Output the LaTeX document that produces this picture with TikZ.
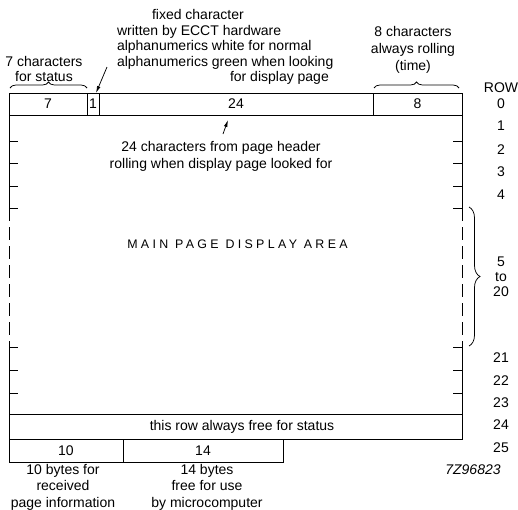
\documentclass[tikz,border=0pt]{standalone}
\usepackage{fontspec}
\setmainfont{Liberation Sans}
\usetikzlibrary{arrows.meta,decorations.pathreplacing,calc}
\begin{document}
\begin{tikzpicture}[x=1pt,y=-1pt,
  every node/.style={inner sep=0pt, outer sep=0pt, font=\fontsize{14}{15.5}\selectfont},
  cell/.style={draw, line width=0.75pt, minimum height=22pt},
  arr/.style={line width=0.75pt, -{Latex[length=7pt,width=3.6pt]}},
  brc/.style={decorate, decoration={brace, amplitude=6pt}, line width=0.75pt},
  edgeline/.style={line width=0.75pt},
  dashline/.style={line width=0.75pt, dash pattern=on 13pt off 6pt},
  tickline/.style={line width=0.75pt},
  rowlbl/.style={anchor=center}
]
\useasboundingbox (0,0) rectangle (518,509);

% row 0 cells
\node[cell, minimum width=78pt] (c7) at (48,104) {7};
\node[cell, minimum width=12pt] (c1) at (93,104) {1};
\node[cell, minimum width=274pt] (c24) at (236,104) {24};
\node[cell, minimum width=89pt] (c8) at (417.5,104) {8};

% row 24 and 25
\node[cell, minimum width=453pt, minimum height=25pt] (r24) at (235.5,426.5) {\hspace*{13pt}this row always free for status};
\node[cell, minimum width=114pt, minimum height=23pt] (c10) at (66,450.5) {10};
\node[cell, minimum width=160pt, minimum height=23pt] (c14) at (203,450.5) {14};

% main area edges
\coordinate (L5) at (9,208);
\coordinate (L21) at (9,347);
\coordinate (R5) at (462,208);
\coordinate (R21) at (462,347);
\draw[edgeline] (c7.south west) -- (L5);
\draw[dashline] (L5) -- (L21);
\draw[edgeline] (L21) -- (r24.north west);
\draw[edgeline] (c8.south east) -- (R5);
\draw[dashline] (R5) -- (R21);
\draw[edgeline] (R21) -- (r24.north east);

% ticks
\foreach \yy in {141,163,186,208,347,370,393} {
  \draw[tickline] (9,\yy) -- (18,\yy);
  \draw[tickline] (453,\yy) -- (462,\yy);
}

% top texts
\node[anchor=north west, align=left] (fixtxt) at (117,9.8)
  {\hspace*{35pt}fixed character\\
   written by ECCT hardware\\
   alphanumerics white for normal\\
   alphanumerics green when looking\\
   \hspace*{113pt}for display page};
\node[anchor=north, align=center, font=\fontsize{14}{14.5}\selectfont] (stattxt) at (44,56.8)
  {7 characters\\for status};
\node[anchor=north, align=center, font=\fontsize{14}{17}\selectfont] (timetxt) at (413,26.8)
  {8 characters\\always rolling\\(time)};

% braces
\draw[brc] ($(c7.north west)+(1,-5)$) -- ($(c7.north east)+(0,-5)$);
\draw[brc] ($(c8.north west)+(1,-5)$) -- ($(c8.north east)+(-3,-5)$);
\draw[brc, decoration={brace, amplitude=11pt}] ($(R5)+(7,-1)$) -- ($(R21)+(7,-1)$);

% arrows
\coordinate (fa) at (107,67);
\draw[arr] (fa) -- ($(c1.north)!0.5!(c1.north east)$);
\node[anchor=north, align=center, font=\fontsize{14}{17}\selectfont] (hdrtxt) at (221,141.8)
  {24 characters from page header\\rolling when display page looked for};
\coordinate (ha) at (223,134);
\coordinate (hb) at (228,120);
\draw[arr] (ha) -- (hb);

% main label
\node[font=\fontsize{12.4}{14}\selectfont\addfontfeature{LetterSpace=27}] (mainlbl) at (237.5,244) {MAIN PAGE DISPLAY AREA};

% bottom texts
\node[anchor=north, align=center, font=\fontsize{14}{16.5}\selectfont] (b10) at (63,464)
  {10 bytes for\\received\\page information};
\node[anchor=north, align=center, font=\fontsize{14}{16.5}\selectfont] (b14) at (207,464)
  {14 bytes\\free for use\\by microcomputer};
\node[font=\fontsize{14}{16}\selectfont\itshape] (code) at (473,470) {7Z96823};

% row labels
\node[rowlbl] (rROW) at (501,88) {ROW};
\node[rowlbl] (r0) at (501,104) {0};
\node[rowlbl] (r1) at (501,126) {1};
\node[rowlbl] (r2) at (501,150) {2};
\node[rowlbl] (r3) at (501,172) {3};
\node[rowlbl] (r4) at (501,195) {4};
\node[rowlbl] (r5) at (501,262) {5};
\node[rowlbl] (rto) at (501,277) {to};
\node[rowlbl] (r20) at (501,292) {20};
\node[rowlbl] (r21) at (501,358) {21};
\node[rowlbl] (r22) at (501,381) {22};
\node[rowlbl] (r23) at (501,403) {23};
\node[rowlbl] (r24l) at (501,425) {24};
\node[rowlbl] (r25) at (501,448) {25};
\end{tikzpicture}
\end{document}
